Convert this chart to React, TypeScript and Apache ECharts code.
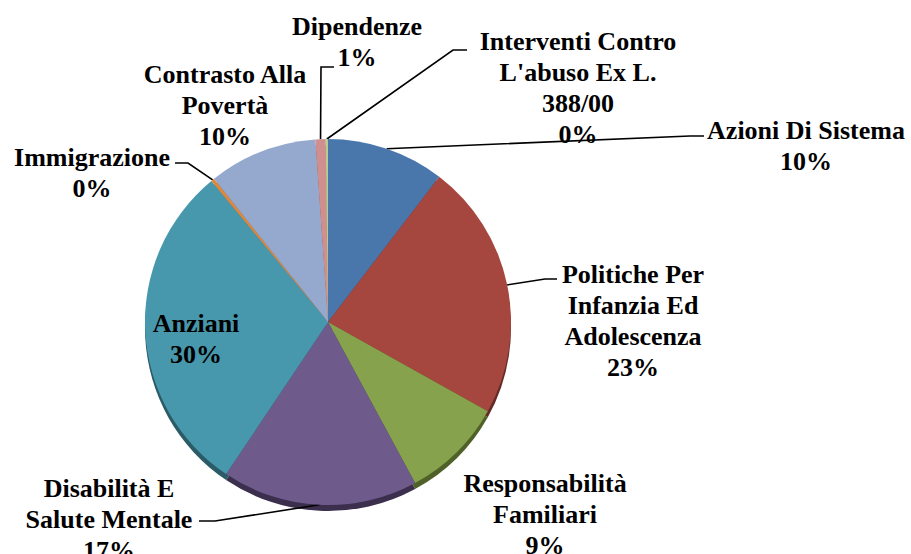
import React, { useEffect, useRef } from "react";
import * as echarts from "echarts";

// ---- data ----
const categories: string[] = [
  "Azioni Di Sistema",
  "Politiche Per\nInfanzia Ed\nAdolescenza",
  "Responsabilità\nFamiliari",
  "Disabilità E\nSalute Mentale",
  "Anziani",
  "Immigrazione",
  "Contrasto Alla\nPovertà",
  "Dipendenze",
  "Interventi Contro\nL'abuso Ex L.\n388/00",
];
const values: number[] = [10.4, 22.7, 9.0, 17.3, 29.6, 0.3, 9.6, 0.9, 0.2];

// ---- styling ----
const colors: string[] = [
  "#4a77ab",
  "#a6473f",
  "#87a24c",
  "#6f5a8c",
  "#4798ac",
  "#e0883a",
  "#95a9cf",
  "#cf8f8f",
  "#b9cb8f",
];
const edgeColors: string[] = [
  "#2c4767",
  "#632a26",
  "#4f6129",
  "#3b2f4d",
  "#2a5b67",
  "#86511f",
  "#5a6a88",
  "#7d5656",
  "#6f7a56",
];

// label placement: centre of the label block, and the leader-line bend/end (null = no line)
const labelPlaces: { x: number; y: number; line: number[][] | null }[] = [
  { x: 806, y: 146, line: [[690, 136], [704, 136]] },
  { x: 633, y: 321, line: [[545, 279], [557, 279]] },
  { x: 545, y: 514, line: null },
  { x: 109, y: 519, line: [[215, 521], [199, 521]] },
  { x: 196, y: 339, line: null },
  { x: 92, y: 173, line: [[188, 163], [175, 163]] },
  { x: 225, y: 105, line: null },
  { x: 357, y: 42, line: [[321, 67], [334, 67]] },
  { x: 578, y: 88, line: [[453, 50], [467, 50]] },
];

const CENTER: [number, number] = [328, 322];
const RADIUS = 183;
const FONT = "Liberation Serif, DejaVu Serif, Times New Roman";

export default function App() {
  const ref = useRef<HTMLDivElement>(null);

  useEffect(() => {
    if (!ref.current) return;
    const chart = echarts.init(ref.current, null, { renderer: "svg" });

    const mainData = categories.map((name, i) => ({
      name,
      value: values[i],
      itemStyle: { color: colors[i] },
      labelLine: { show: labelPlaces[i].line !== null },
    }));
    const edgeData = categories.map((name, i) => ({
      name,
      value: values[i],
      itemStyle: { color: edgeColors[i] },
    }));

    chart.setOption({
      animation: false,
      backgroundColor: "#ffffff",
      textStyle: { fontFamily: FONT },
      series: [
        {
          type: "pie",
          silent: true,
          z: 1,
          center: [CENTER[0], CENTER[1] + 6],
          radius: RADIUS,
          startAngle: 90,
          clockwise: true,
          label: { show: false },
          labelLine: { show: false },
          itemStyle: { borderWidth: 0 },
          data: edgeData,
        },
        {
          type: "pie",
          z: 2,
          center: CENTER,
          radius: RADIUS,
          startAngle: 90,
          clockwise: true,
          avoidLabelOverlap: false,
          itemStyle: { borderWidth: 0 },
          label: {
            show: true,
            position: "outside",
            formatter: (p: any) => `{t|${p.name}\n${Math.round(p.percent)}%}`,
            rich: {
              t: {
                fontFamily: FONT,
                fontWeight: "bold",
                fontSize: 26,
                lineHeight: 31,
                color: "#000000",
                align: "center",
              },
            },
            fontFamily: FONT,
            fontWeight: "bold",
            fontSize: 26,
            lineHeight: 31,
            color: "#000000",
            align: "center",
          },
          labelLine: {
            show: true,
            length: 10,
            length2: 10,
            lineStyle: { color: "#000000", width: 1.6 },
          },
          labelLayout: (params: any) => {
            const place = labelPlaces[params.dataIndex];
            if (!place) return {};
            const res: any = {
              x: place.x,
              y: place.y,
              align: "center",
              verticalAlign: "middle",
            };
            if (place.line && params.labelLinePoints && params.labelLinePoints[0]) {
              const start = params.labelLinePoints[0];
              res.labelLinePoints = [start, place.line[0], place.line[1]];
            }
            return res;
          },
          data: mainData,
        },
      ],
    });

    return () => {
      chart.dispose();
    };
  }, []);

  return (
    <div
      ref={ref}
      style={{ position: "fixed", left: 0, top: 0, width: 911, height: 554, background: "#fff" }}
    />
  );
}
